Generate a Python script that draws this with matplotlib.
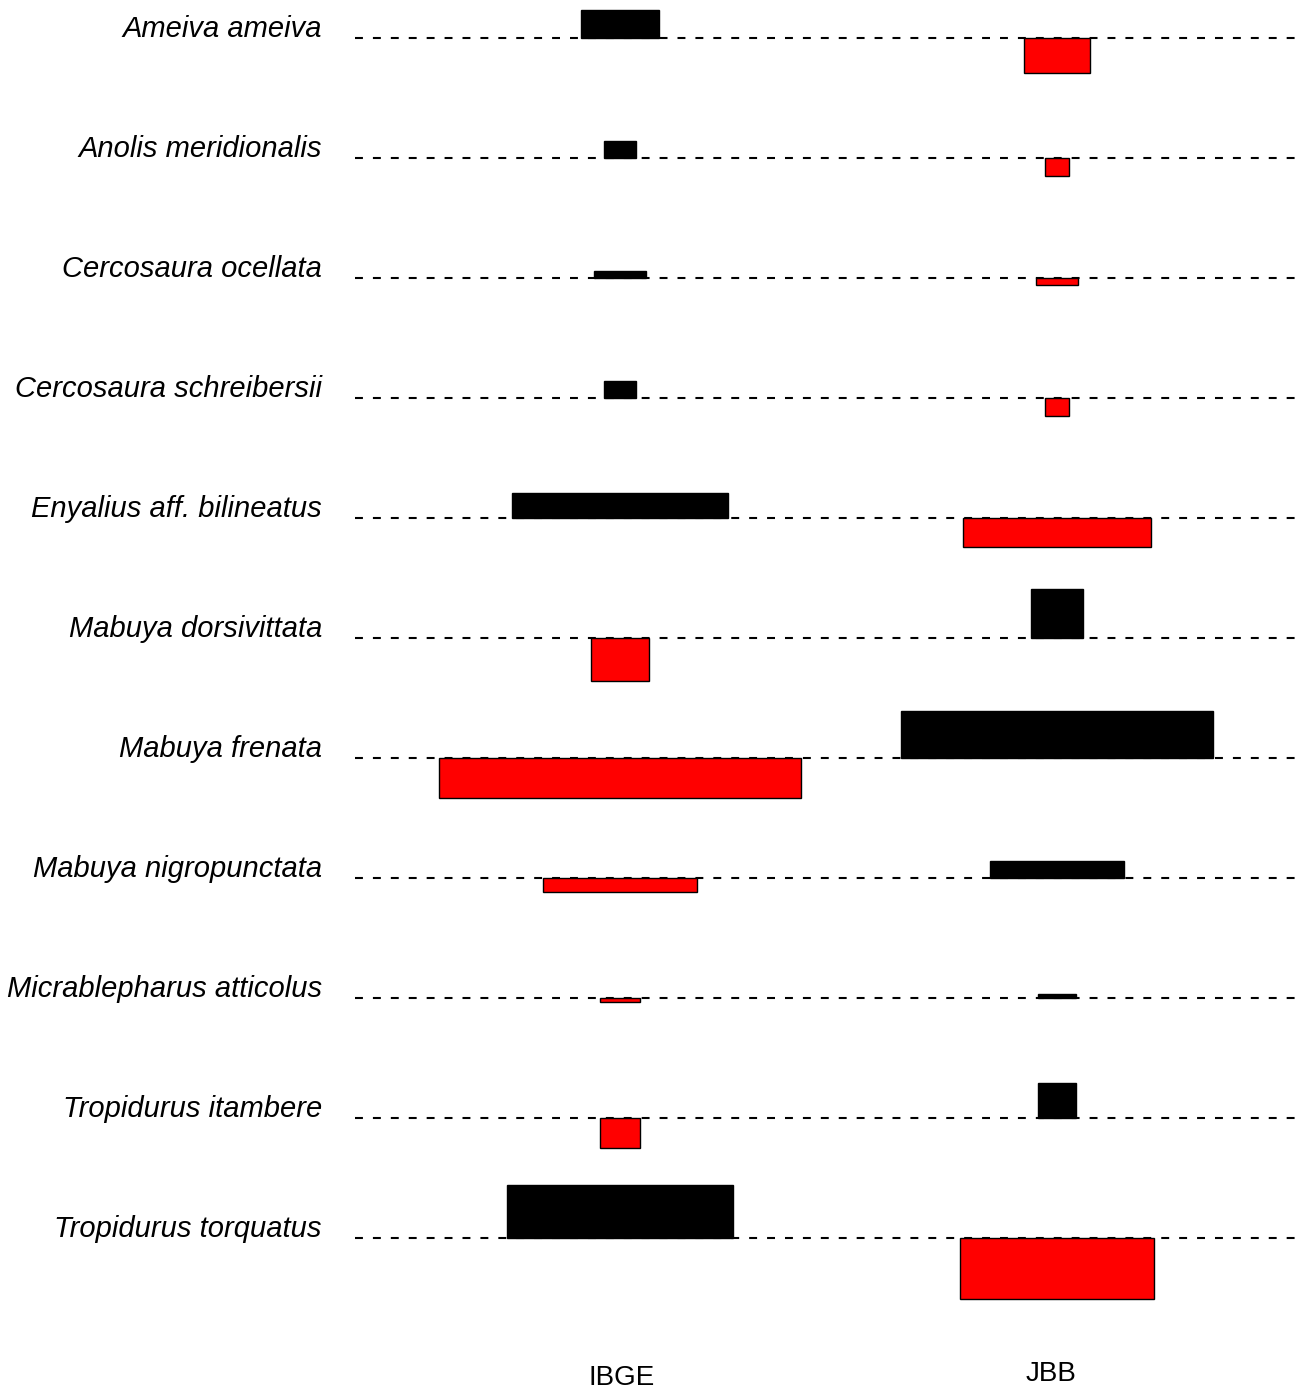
import matplotlib
matplotlib.use("Agg")
import matplotlib.pyplot as plt
from matplotlib.patches import Rectangle

species = [
    "Ameiva ameiva", "Anolis meridionalis", "Cercosaura ocellata",
    "Cercosaura schreibersii", "Enyalius aff. bilineatus", "Mabuya dorsivittata",
    "Mabuya frenata", "Mabuya nigropunctata", "Micrablepharus atticolus",
    "Tropidurus itambere", "Tropidurus torquatus",
]
sites = ["IBGE", "JBB"]

# bar width = sqrt(expected count), bar height = Pearson residual
sqrt_exp_ibge = [2.66, 1.07, 1.76, 1.07, 7.48, 2.00, 12.45, 5.28, 1.41, 1.41, 7.76]
sqrt_exp_jbb = [2.28, 0.86, 1.48, 0.86, 6.45, 1.76, 10.79, 4.59, 1.28, 1.28, 6.72]
resid_ibge = [1.33, 0.81, 0.33, 0.81, 1.19, -2.05, -1.90, -0.67, -0.19, -1.43, 2.52]
resid_jbb = [-1.67, -0.86, -0.33, -0.86, -1.38, 2.33, 2.24, 0.81, 0.19, 1.67, -2.90]

W, H = 1303, 1393
fig = plt.figure(figsize=(W / 100, H / 100), dpi=100)
plt.rcParams['font.family'] = ['Liberation Sans', 'DejaVu Sans']

# axes: 29 px per sqrt-unit horizontally, 21 px per residual unit vertically
left_px = 355
ax = fig.add_axes([left_px / W, 0, 1 - left_px / W, 1])
sx, sy = 29.0, 21.0
row_gap = 120 / sy
top_px = 38
ax.set_xlim(0, (W - left_px) / sx)
ax.set_ylim(-(H - top_px) / sy, top_px / sy)
ax.axis("off")

centers = [(620 - left_px) / sx, (1057 - left_px) / sx]
widths = [sqrt_exp_ibge, sqrt_exp_jbb]
resids = [resid_ibge, resid_jbb]

for i, name in enumerate(species):
    y0 = -i * row_gap
    ax.plot([0, (W - left_px) / sx], [y0, y0], color="black", lw=1.5,
            ls=(0, (3.8, 4.8)), zorder=1, solid_capstyle="butt")
    for j in range(2):
        w = widths[j][i]
        r = resids[j][i]
        col = "black" if r > 0 else "red"
        ax.add_patch(Rectangle((centers[j] - w / 2, y0), w, r, facecolor=col,
                               edgecolor="black", lw=1.0, zorder=2))
    ax.text(-33 / sx, y0 + 1 / sy, name, ha="right", va="baseline",
            fontsize=21, style="italic", clip_on=False)

label_y = [-(1385 - top_px) / sy, -(1381 - top_px) / sy]
label_x = [(622 - left_px) / sx, (1051 - left_px) / sx]
for j, s in enumerate(sites):
    ax.text(label_x[j], label_y[j], s, ha="center", va="baseline", fontsize=20)

fig.savefig("out.png", dpi=100)
